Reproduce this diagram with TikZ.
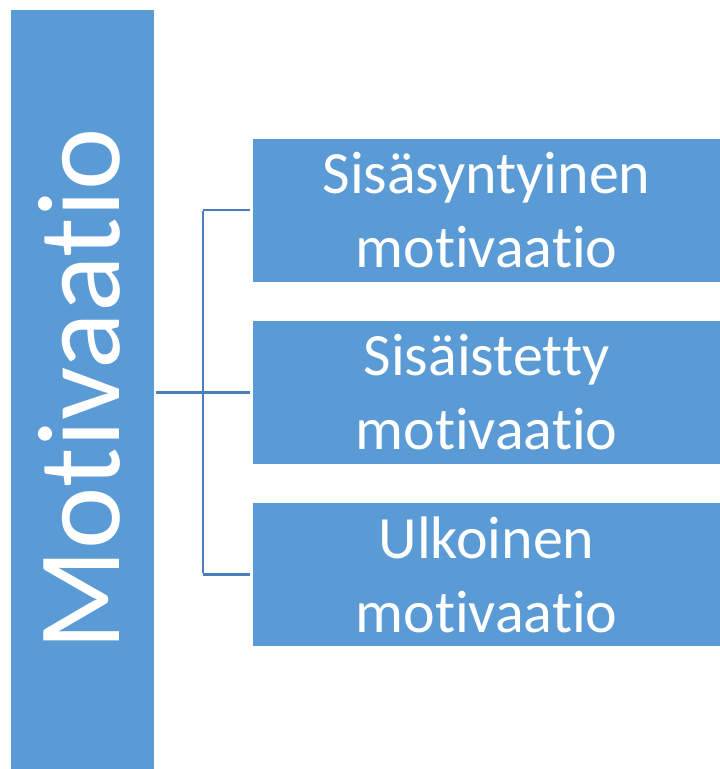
\documentclass[tikz,border=0pt]{standalone}
\usepackage{fontspec}
\setmainfont{Carlito}[RawFeature={-liga}]
\usepackage{xcolor}
\definecolor{boxblue}{HTML}{5B9BD5}
\definecolor{lineblue}{HTML}{4A7EBB}
\tikzset{
  mainbox/.style={fill=boxblue, text=white, minimum width=143pt, minimum height=759pt, inner sep=0pt, font=\fontsize{118}{140}\selectfont},
  subbox/.style={fill=boxblue, text=white, minimum width=467pt, minimum height=143pt, inner sep=0pt, align=center, font=\fontsize{60}{74}\selectfont},
  link/.style={draw=lineblue, line width=2.2pt, shorten <=2pt, shorten >=3pt}
}
\begin{document}
\begin{tikzpicture}[x=1pt, y=-1pt]
	\useasboundingbox (0,0) rectangle (720,769);
	\node (mot) [mainbox] at (82.5, 389.5) {\rotatebox{90}{Motivaatio}\hspace*{6pt}};
	\node (s1) [subbox] at (486.5, 210) {Sisäsyntyinen\\motivaatio};
	\node (s2) [subbox] at (486.5, 392.5) {Sisäistetty\\motivaatio};
	\node (s3) [subbox] at (486.5, 574.5) {Ulkoinen\\motivaatio};
	\coordinate (fork) at (203, 392.5);
	\draw[link] (mot.east |- fork) -- (fork -| s2.west);
	\draw[link, shorten <=0pt] (fork |- s1.west) -- (s1.west);
	\draw[link, shorten <=0pt] (fork |- s3.west) -- (s3.west);
	\draw[draw=lineblue, line width=2.2pt] ([yshift=-1.1pt]fork |- s1.west) -- ([yshift=1.1pt]fork |- s3.west);
\end{tikzpicture}
\end{document}
